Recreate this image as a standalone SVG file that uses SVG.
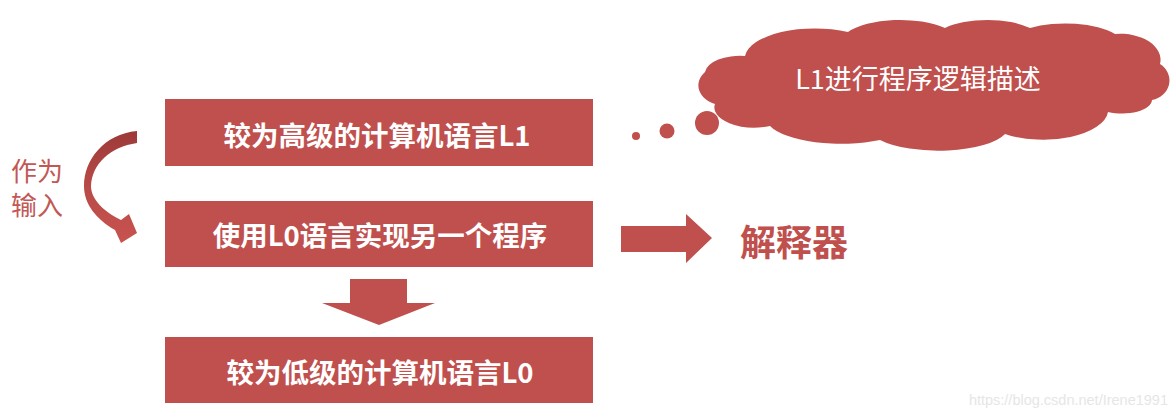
<svg xmlns="http://www.w3.org/2000/svg" width="1176" height="418" viewBox="0 0 1176 418">
  <defs>
    <linearGradient id="curveGrad" x1="0" y1="0" x2="0" y2="1">
      <stop offset="0" stop-color="#9c3a38"/>
      <stop offset="0.5" stop-color="#b84a47"/>
      <stop offset="1" stop-color="#c8534f"/>
    </linearGradient>
  </defs>
  <style>
    .box { fill: #C0504D; }
    .boxText { font-family: "Noto Sans CJK SC", "Noto Sans", sans-serif; font-weight: bold; font-size: 27.5px; fill: #ffffff; text-anchor: middle; }
    .red { fill: #C0504D; }
    .cloudText { font-family: "Noto Sans CJK SC", "Noto Sans", sans-serif; font-weight: normal; font-size: 27px; fill: #ffffff; text-anchor: middle; }
    .sideText { font-family: "Noto Sans CJK SC", sans-serif; font-size: 26px; fill: #c25855; }
    .interp { font-family: "Noto Sans CJK SC", sans-serif; font-weight: bold; font-size: 36px; fill: #C0504D; }
    .mark { font-family: "Liberation Sans", Arial, sans-serif; font-size: 14.5px; fill: #e6e6e6; text-anchor: end; }
  </style>
  <rect width="1176" height="418" fill="#ffffff"/>

  <g id="node-l1">
    <rect class="box" x="165" y="99" width="428" height="67"/>
    <text class="boxText" x="377" y="146">较为高级的计算机语言L1</text>
  </g>

  <g id="node-interpreter-program">
    <rect class="box" x="165" y="201" width="428" height="66"/>
    <text class="boxText" x="380" y="246">使用L0语言实现另一个程序</text>
  </g>

  <g id="node-l0">
    <rect class="box" x="165" y="337" width="428" height="66"/>
    <text class="boxText" x="380" y="383">较为低级的计算机语言L0</text>
  </g>

  <g id="node-cloud">
    <path class="red" d="M 745,56 A 70,30 0 0 1 848,32 A 60,24 0 0 1 945,28 A 55,22 0 0 1 1030,28 A 60,24 0 0 1 1115,34 A 40,26 0 0 1 1160,64 A 22,20 0 0 1 1152,100 A 30,14 0 0 1 1108,112 A 65,30 0 0 1 1005,134 A 70,24 0 0 1 880,140 A 75,26 0 0 1 770,126 A 40,20 0 0 1 715,104 A 26,20 0 0 1 705,72 A 35,18 0 0 1 745,56 Z"/>
    <circle class="red" cx="707" cy="123" r="12"/>
    <circle class="red" cx="667" cy="131" r="7.5"/>
    <circle class="red" cx="636" cy="136" r="4"/>
    <text class="cloudText" x="918" y="89">L1进行程序逻辑描述</text>
  </g>

  <g id="node-side-label">
    <text class="sideText" x="11" y="181">作为</text>
    <text class="sideText" x="11" y="215">输入</text>
  </g>

  <g id="node-interp-label">
    <text class="interp" x="740" y="256">解释器</text>
  </g>

  <g id="connectors">
    <path fill="url(#curveGrad)" d="M 137,131 C 104,134 84,160 84,186 C 84,204 96,219 115,230 L 121,243 L 137,233 L 129,214 L 121,220 C 103,211 91,199 91,186 C 92,164 110,147 137,143 Z"/>
    <path class="red" d="M 350,279 L 407,279 L 407,303 L 435,303 L 379,325 L 322,303 L 350,303 Z"/>
    <path class="red" d="M 621,226 L 686,226 L 686,214 L 712,238 L 686,263 L 686,252 L 621,252 Z"/>
  </g>

  <text class="mark" x="1168" y="405">https://blog.csdn.net/Irene1991</text>
</svg>
